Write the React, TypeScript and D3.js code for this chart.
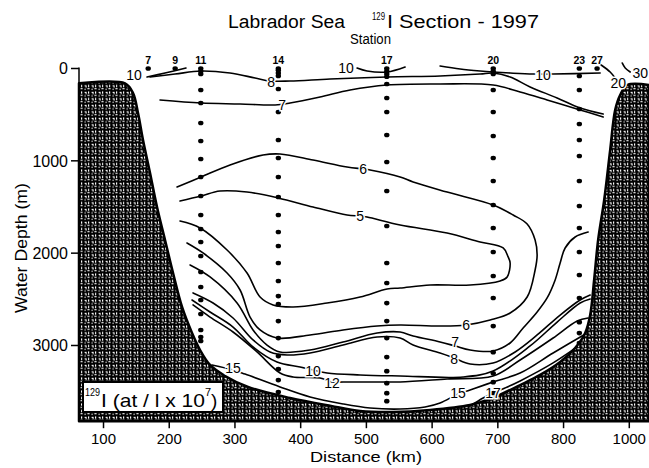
import React from 'react';
import * as d3 from 'd3';

// ---------- data ----------
const stationNumbers = [7, 9, 11, 14, 17, 20, 23, 27];
const stationKm = [168, 209, 248, 366, 531, 693, 824, 851];
const sampleDepths: number[][] = [
  [0],
  [0],
  [0, 30, 60, 233, 374, 590, 785, 980, 1175, 1381, 1587, 1738, 1879, 2031, 2204, 2366, 2507, 2659, 2832, 2908, 2951],
  [0, 20, 50, 80, 222, 471, 774, 969, 1175, 1392, 1587, 1771, 1923, 2107, 2302, 2465, 2552, 2736, 2920, 3115, 3256, 3375, 3505],
  [0, 30, 60, 90, 168, 320, 471, 720, 1012, 1327, 1706, 2107, 2324, 2541, 2736, 2920, 3126, 3278, 3408, 3516, 3603],
  [0, 30, 60, 233, 471, 731, 969, 1218, 1478, 1728, 1988, 2248, 2486, 2790, 3072, 3300, 3397, 3516],
  [0, 81, 233, 439, 601, 774, 948, 1218, 1489, 1728, 1988, 2237, 2486, 2747, 2866, 2974, 3028],
  [0],
];

const bathymetry: [number, number][] = [
  [62.7, 160], [132.7, 160], [144.9, 265], [152.5, 482], [160.1, 775], [170.8, 1132],
  [181.4, 1500], [193.6, 1857], [205.8, 2215], [219.5, 2583], [234.7, 2865], [246.9, 3049],
  [262.1, 3211], [285, 3330], [319.9, 3449], [383.9, 3568], [446.3, 3655], [490.4, 3709],
  [540.6, 3720], [597, 3698], [657.8, 3644], [688.3, 3580], [733.9, 3428], [764.3, 3319],
  [794.8, 3179], [817.6, 3027], [832.9, 2865], [840.5, 2670], [846.5, 2290], [852.6, 1857],
  [861.8, 1424], [870.9, 883], [878.5, 449], [886.1, 287], [896.8, 179], [930, 179],
];

const c10Left: [number, number][] = [[166.2, 92], [193.6, 49], [225.5, -5]];
const c10Mid: [number, number][] = [[485.8, -5], [501, 27], [531.5, 38], [558.9, -16]];
const c10Right: [number, number][] = [
  [612.1, -27], [642.6, 5], [673, 27], [692.8, 38], [718.7, 49], [753.7, 60], [784.1, 60], [855.7, 49],
];
const c20: [number, number][] = [[857.2, -38], [870.9, 38], [878.5, 103]];
const c30: [number, number][] = [[889.2, -60], [893.8, -5], [901.4, 38]];
const c8Upper: [number, number][] = [
  [170.8, 92], [208.8, 60], [248.4, 27], [292.5, 49], [330.6, 103], [353.4, 135], [383.9, 135],
  [444.7, 114], [531.5, 92], [612.1, 81], [673, 60], [692.8, 49], [718.7, 92], [749.1, 200],
  [790.2, 319], [825.2, 428], [860.3, 493],
];
const c7Upper: [number, number][] = [
  [186, 341], [248.4, 374], [307.8, 384], [361, 395], [383.9, 374], [429.5, 309], [475.2, 233],
  [531.5, 179], [612.1, 168], [692.8, 179], [733.9, 255], [775, 341], [825.2, 449], [860.3, 525],
];
const c6: [number, number][] = [
  [211.9, 1283], [248.4, 1175], [292.5, 1045], [342.8, 937], [368.6, 926], [418.9, 991],
  [470.6, 1067], [495, 1088], [505.6, 1099], [551.3, 1175], [571.1, 1229], [622.8, 1338],
  [692.8, 1478], [723.3, 1587], [744.6, 1684], [756.7, 1857], [759.8, 2020], [756.7, 2182],
  [744.6, 2475], [718.7, 2648], [688.3, 2724], [651.8, 2778], [612.1, 2789], [551.3, 2778],
  [516.3, 2789], [464.5, 2832], [414.3, 2886], [364, 2919], [338.2, 2832], [323, 2692],
  [307.8, 2399], [288, 2215], [251.4, 1998], [227, 1890],
];
const c5: [number, number][] = [
  [216.4, 1435], [248.4, 1381], [277.3, 1327], [318.4, 1338], [365.6, 1402], [418.9, 1500],
  [470.6, 1587], [490.4, 1597], [501, 1608], [551.3, 1695], [622.8, 1782], [673, 1879],
  [708.1, 1944], [715.7, 2041], [718.7, 2106], [714.2, 2258], [703.5, 2301], [657.8, 2345],
  [597, 2345], [551.3, 2377], [531.5, 2388], [490.4, 2475], [440.2, 2540], [388.4, 2583],
  [358, 2561], [338.2, 2475], [318.4, 2215], [288, 1966], [246.9, 1727], [216.4, 1652],
];
const c7Lower: [number, number][] = [
  [231.7, 2128], [262.1, 2258], [303.2, 2540], [327.5, 2832], [348.8, 2995], [368.6, 3070],
  [414.3, 3049], [464.5, 2962], [516.3, 2865], [551.3, 2854], [571.1, 2897], [612.1, 2962],
  [635, 3005], [657.8, 3049], [692.8, 3060], [718.7, 2973], [738.5, 2811], [759.8, 2637],
  [775, 2485], [787.2, 2290], [794.8, 2106], [802.4, 1944], [817.6, 1825], [837.4, 1771],
];
const c8Lower: [number, number][] = [
  [236.2, 2431], [266.7, 2540], [297.1, 2702], [327.5, 2940], [353.4, 3070], [379.3, 3103],
  [414.3, 3081], [464.5, 2995], [516.3, 2908], [551.3, 2919], [571.1, 2995], [612.1, 3081],
  [633.4, 3135], [657.8, 3200], [692.8, 3189], [726.3, 3070], [759.8, 2886], [794.8, 2670],
  [825.2, 2507], [840.5, 2453],
];
const c10Lower: [number, number][] = [
  [234.7, 2507], [262.1, 2637], [297.1, 2800], [327.5, 3016], [364, 3179], [399.1, 3233],
  [418.9, 3265], [440.2, 3298], [490.4, 3319], [551.3, 3330], [647.2, 3341], [692.8, 3276],
  [749.1, 3005], [790.2, 2746], [825.2, 2540], [840.5, 2496],
];
const c12: [number, number][] = [
  [236.2, 2561], [262.1, 2692], [297.1, 2854], [333.6, 3070], [368.6, 3298], [388.4, 3341],
  [429.5, 3352], [447.8, 3395], [464.5, 3395], [516.3, 3395], [551.3, 3395], [622.8, 3363],
  [692.8, 3330], [733.9, 3157], [784.1, 2919], [820.7, 2735], [837.4, 2702],
];
const c15: [number, number][] = [
  [265.1, 3211], [297.1, 3265], [315.4, 3309], [368.6, 3449], [414.3, 3558], [464.5, 3633],
  [505.6, 3677], [551.3, 3688], [589.3, 3666], [612.1, 3623], [639.5, 3525], [657.8, 3482],
  [692.8, 3395], [733.9, 3298], [784.1, 3081], [835.9, 2865],
];
const c17: [number, number][] = [
  [657.8, 3655], [677.6, 3568], [692.8, 3514], [711, 3460], [733.9, 3384], [784.1, 3189], [835.9, 2940],
];
const contourLines = [
  c10Left, c10Mid, c10Right, c20, c30, c8Upper, c7Upper, c6, c5,
  c7Lower, c8Lower, c10Lower, c12, c15, c17,
];

const labelTexts = ['10', '8', '7', '10', '10', '20', '30', '6', '5', '6', '7', '8', '10', '12', '15', '15', '17'];
const labelKm = [146.4, 354.9, 371.7, 469, 768.9, 883.1, 916.6, 495, 490.4, 651.8, 635, 633.4, 418.9, 447.8, 297.1, 639.5, 692.8];
const labelM = [70, 146, 395, -5, 70, 157, 49, 1088, 1597, 2778, 2963, 3145, 3276, 3406, 3243, 3514, 3514];

const yTickValues = [0, 1000, 2000, 3000];
const xTickValues = [100, 200, 300, 400, 500, 600, 700, 800, 900];
const xTickLabels = ['100', '200', '300', '400', '500', '600', '700', '800', '1000'];

// ---------- component ----------
const FONT = '"Liberation Sans", Arial, Helvetica, sans-serif';

export default function App() {
  const x = d3.scaleLinear().domain([62.7, 930]).range([79, 649]);
  const y = d3.scaleLinear().domain([0, 3820]).range([68.5, 421.2]);

  const line = d3
    .line<[number, number]>()
    .x((d) => x(d[0]))
    .y((d) => y(d[1]))
    .curve(d3.curveCatmullRom.alpha(0.5));

  const bathyPath =
    (line(bathymetry) as string) +
    `L${x(930)},${y(3820)}L${x(62.7)},${y(3820)}Z`;

  return (
    <svg
      width={649}
      height={468}
      style={{ position: 'absolute', left: 0, top: 0, background: '#fff' }}
      fontFamily={FONT}
    >
      <defs>
        <pattern id="rock" patternUnits="userSpaceOnUse" width={7} height={6.5}>
          <rect width={7} height={6.5} fill="#000" />
          <rect x={0.6} y={0.8} width={2.0} height={1.1} fill="#fff" />
          <rect x={1.6} y={1.8} width={1.0} height={1.4} fill="#fff" />
          <rect x={4.0} y={0.4} width={1.2} height={2.2} fill="#fff" />
          <rect x={3.4} y={3.7} width={2.2} height={1.1} fill="#fff" />
          <rect x={0.5} y={4.3} width={1.2} height={1.1} fill="#fff" />
        </pattern>
      </defs>

      {/* contour lines */}
      <g fill="none" stroke="#000" strokeWidth={1.6} strokeLinejoin="round" strokeLinecap="round">
        {contourLines.map((c, i) => (
          <path key={i} d={line(c) as string} />
        ))}
      </g>

      {/* sample points */}
      <g fill="#000">
        {stationKm.map((km, i) =>
          sampleDepths[i].map((m, j) => (
            <ellipse key={`${i}-${j}`} cx={x(km)} cy={y(m)} rx={2.7} ry={2.3} />
          ))
        )}
      </g>

      {/* bathymetry */}
      <path d={bathyPath} fill="url(#rock)" stroke="#000" strokeWidth={2.5} strokeLinejoin="round" />

      {/* contour labels */}
      <g fontSize={14} textAnchor="middle">
        {labelTexts.map((t, i) => (
          <text
            key={i}
            x={x(labelKm[i])}
            y={y(labelM[i])}
            dy="0.36em"
            stroke="#fff"
            strokeWidth={3}
            paintOrder="stroke"
            fill="#000"
          >
            {t}
          </text>
        ))}
      </g>

      {/* station numbers */}
      <g fontSize={10.5} fontWeight="bold" textAnchor="middle">
        {stationNumbers.map((s, i) => (
          <text key={s} x={x(stationKm[i])} y={64}>
            {s}
          </text>
        ))}
      </g>

      {/* legend */}
      <rect x={83} y={382} width={140} height={30} fill="#fff" stroke="#000" strokeWidth={2} />
      <text x={85} y={396} fontSize={11} textLength={15} lengthAdjust="spacingAndGlyphs">129</text>
      <text x={101} y={407} fontSize={19} textLength={104} lengthAdjust="spacingAndGlyphs">I (at / l x 10</text>
      <text x={205} y={396} fontSize={11}>7</text>
      <text x={211} y={407} fontSize={19}>)</text>

      {/* y axis */}
      <line x1={79} x2={79} y1={y(0) - 1} y2={y(3820)} stroke="#000" strokeWidth={1.5} />
      {yTickValues.map((v) => (
        <g key={v}>
          <line x1={71} x2={79} y1={y(v)} y2={y(v)} stroke="#000" strokeWidth={1.5} />
          <text x={68} y={y(v)} dy="0.36em" fontSize={16} textAnchor="end">
            {v}
          </text>
        </g>
      ))}

      {/* x axis */}
      {xTickValues.map((v, i) => (
        <g key={v}>
          <line x1={x(v)} x2={x(v)} y1={y(3820)} y2={y(3820) + 7} stroke="#000" strokeWidth={1.5} />
          <text x={x(v)} y={444} fontSize={15} textAnchor="middle">
            {xTickLabels[i]}
          </text>
        </g>
      ))}

      {/* titles */}
      <text x={228} y={28} fontSize={18} textLength={117} lengthAdjust="spacingAndGlyphs">Labrador Sea</text>
      <text x={372} y={20} fontSize={10} textLength={13} lengthAdjust="spacingAndGlyphs">129</text>
      <text x={387} y={28} fontSize={18} textLength={152} lengthAdjust="spacingAndGlyphs">I Section - 1997</text>
      <text x={350} y={44} fontSize={14} textLength={41} lengthAdjust="spacingAndGlyphs">Station</text>
      <text x={366} y={462} fontSize={15.5} textAnchor="middle" textLength={112} lengthAdjust="spacingAndGlyphs">
        Distance (km)
      </text>
      <text
        transform="translate(27,248) rotate(-90)"
        fontSize={17}
        textAnchor="middle"
        textLength={130}
        lengthAdjust="spacingAndGlyphs"
      >
        Water Depth (m)
      </text>
    </svg>
  );
}
